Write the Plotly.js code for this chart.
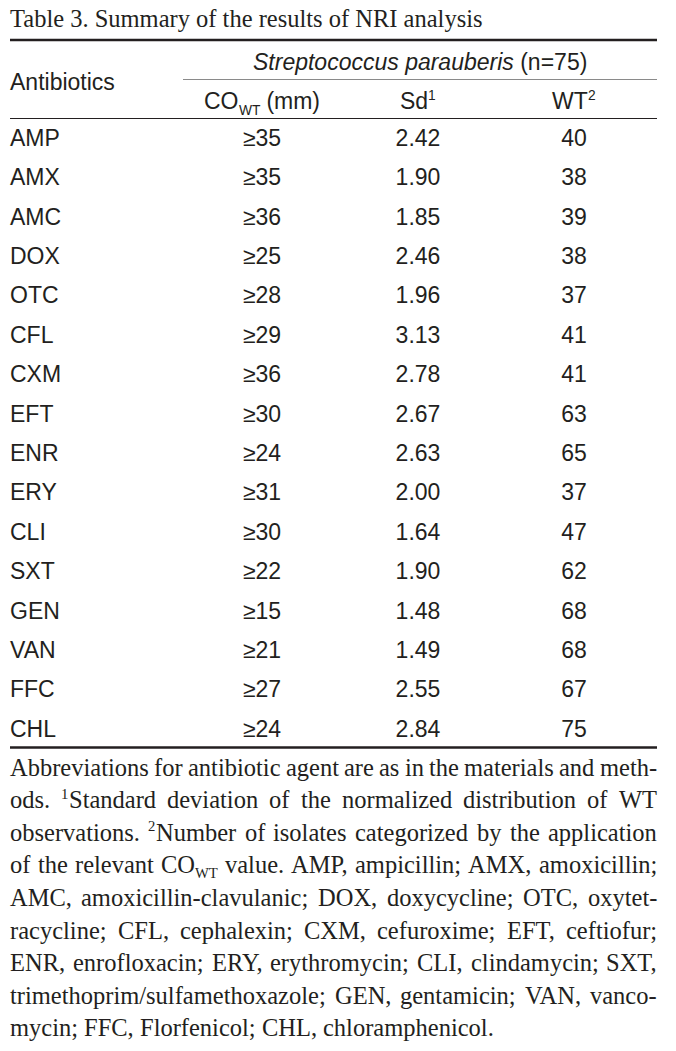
<!DOCTYPE html>
<html>
<head>
<meta charset="utf-8">
<script src="https://cdn.plot.ly/plotly-3.0.1.min.js"></script>
<style>
html,body{margin:0;padding:0;background:#fff;}
#chart{width:676px;height:1051px;}
</style>
</head>
<body>
<div id="chart"></div>
<script>
// ---- data ----
const antibiotics = ['AMP','AMX','AMC','DOX','OTC','CFL','CXM','EFT','ENR','ERY','CLI','SXT','GEN','VAN','FFC','CHL'];
const coWT = [35,35,36,25,28,29,36,30,24,31,30,22,15,21,27,24];
const sdValues = [2.42,1.90,1.85,2.46,1.96,3.13,2.78,2.67,2.63,2.00,1.64,1.90,1.48,1.49,2.55,2.84];
const wtCounts = [40,38,39,38,37,41,41,63,65,37,47,62,68,68,67,75];
const titleText = 'Table 3. Summary of the results of NRI analysis';
const groupHeader = '<i>Streptococcus parauberis</i> (n=75)';
const rowHeader = 'Antibiotics';
// header cells, written with ^{..} for superscript and _{..} for subscript
const colHeaders = ['CO_{WT} (mm)', 'Sd^{1}', 'WT^{2}'];
const footLines = [
  'Abbreviations for antibiotic agent are as in the materials and meth-',
  'ods. ^{1}Standard deviation of the normalized distribution of WT',
  'observations. ^{2}Number of isolates categorized by the application',
  'of the relevant CO_{WT} value. AMP, ampicillin; AMX, amoxicillin;',
  'AMC, amoxicillin-clavulanic; DOX, doxycycline; OTC, oxytet-',
  'racycline; CFL, cephalexin; CXM, cefuroxime; EFT, ceftiofur;',
  'ENR, enrofloxacin; ERY, erythromycin; CLI, clindamycin; SXT,',
  'trimethoprim/sulfamethoxazole; GEN, gentamicin; VAN, vanco-',
  'mycin; FFC, Florfenicol; CHL, chloramphenicol.'
];

// ---- layout constants ----
const W = 676, H = 1051;
const SANS = 'Liberation Sans, Arial, sans-serif';
const SERIF = 'Liberation Serif, Times New Roman, serif';
const INK = '#231f20';
const sansSize = 23, serifSize = 24.5, titleSize = 24.5;
const left = 10, right = 657;
const colX = [262, 418, 574];
const row0 = 140, rowStep = 39.4;
const rowY = i => row0 + i * rowStep;
const footY0 = 767, footStep = 32.6;

// ---- text helpers ----
const ctx = document.createElement('canvas').getContext('2d');
function textWidth(t, size, family) {
  ctx.font = size + 'px ' + family;
  return ctx.measureText(t).width;
}
// split "CO_{WT} (mm)" into segments
function segments(str) {
  const out = [];
  const re = /([\^_])\{(.*?)\}|([^\^_]+)/g;
  let m;
  while ((m = re.exec(str)) !== null) {
    if (m[1]) out.push({t:m[2], kind: m[1] === '^' ? 'sup' : 'sub'});
    else out.push({t:m[3], kind:'normal'});
  }
  return out;
}
const SUP = 0.6;
function segSize(kind, size) { return kind === 'normal' ? size : size * SUP; }
function compositeWidth(str, size, family) {
  return segments(str).reduce((a, s) => a + textWidth(s.t, segSize(s.kind, size), family), 0);
}

const annotations = [];
const ann = (o) => annotations.push(Object.assign({xref:'x', yref:'y', showarrow:false, borderpad:0, borderwidth:0}, o));

// place composite text starting at x (left), vertically centred at y
function placeComposite(str, x, y, size, family, supShift, subShift) {
  segments(str).forEach(s => {
    const sz = segSize(s.kind, size);
    let shift = 0;
    if (s.kind === 'sup') shift = supShift;
    if (s.kind === 'sub') shift = -subShift;
    ann({x:x, y:y, xanchor:'left', yanchor:'middle', yshift:shift, text:s.t,
         font:{family:family, size:sz, color:INK}});
    x += textWidth(s.t, sz, family);
  });
}

// title
ann({x:left, y:18, xanchor:'left', yanchor:'middle', text:titleText, font:{family:SERIF, size:titleSize, color:INK}});
// headers
ann({x:left, y:82, xanchor:'left', yanchor:'middle', text:rowHeader, font:{family:SANS, size:sansSize, color:INK}});
ann({x:(183 + right) / 2, y:62, xanchor:'center', yanchor:'middle', text:groupHeader, font:{family:SANS, size:sansSize, color:INK}});
colHeaders.forEach((t, j) => {
  const w = compositeWidth(t, sansSize, SANS);
  placeComposite(t, colX[j] - w / 2, 101, sansSize, SANS, 6, 9);
});

// footnote, justified word by word
footLines.forEach((line, li) => {
  const words = line.split(' ');
  const widths = words.map(w => compositeWidth(w, serifSize, SERIF));
  const total = widths.reduce((a, b) => a + b, 0);
  const last = li === footLines.length - 1;
  const normalGap = textWidth(' ', serifSize, SERIF);
  const gap = last ? normalGap : (right - left - total) / (words.length - 1);
  let x = left;
  words.forEach((w, k) => {
    placeComposite(w, x, footY0 + li * footStep, serifSize, SERIF, 6, 8);
    x += widths[k] + gap;
  });
});

// ---- traces: table cells ----
const ys = antibiotics.map((_, i) => rowY(i));
const txtFont = {family:SANS, size:sansSize, color:INK};
const traces = [
  {type:'scatter', mode:'text', x:antibiotics.map(() => left), y:ys, text:antibiotics,
   textposition:'middle right', textfont:txtFont, hoverinfo:'skip', cliponaxis:false},
  {type:'scatter', mode:'text', x:coWT.map(() => colX[0]), y:ys, text:coWT.map(v => '\u2265' + v),
   textposition:'middle center', textfont:txtFont, hoverinfo:'skip', cliponaxis:false},
  {type:'scatter', mode:'text', x:sdValues.map(() => colX[1]), y:ys, text:sdValues.map(v => v.toFixed(2)),
   textposition:'middle center', textfont:txtFont, hoverinfo:'skip', cliponaxis:false},
  {type:'scatter', mode:'text', x:wtCounts.map(() => colX[2]), y:ys, text:wtCounts.map(v => String(v)),
   textposition:'middle center', textfont:txtFont, hoverinfo:'skip', cliponaxis:false}
];

const shapes = [
  {type:'line', xref:'x', yref:'y', x0:left, x1:right, y0:40, y1:40, line:{color:INK, width:2.6}},
  {type:'line', xref:'x', yref:'y', x0:183, x1:right, y0:79.5, y1:79.5, line:{color:'#8a8a8a', width:1.2}},
  {type:'line', xref:'x', yref:'y', x0:left, x1:right, y0:118.5, y1:118.5, line:{color:INK, width:1}},
  {type:'line', xref:'x', yref:'y', x0:left, x1:right, y0:747.5, y1:747.5, line:{color:INK, width:2.6}}
];

const layout = {
  width:W, height:H, margin:{l:0, r:0, t:0, b:0, pad:0},
  paper_bgcolor:'#ffffff', plot_bgcolor:'#ffffff', showlegend:false,
  xaxis:{range:[0, W], visible:false, fixedrange:true},
  yaxis:{range:[H, 0], visible:false, fixedrange:true},
  annotations:annotations, shapes:shapes
};
Plotly.newPlot('chart', traces, layout, {staticPlot:true, displayModeBar:false});
</script>
</body>
</html>
